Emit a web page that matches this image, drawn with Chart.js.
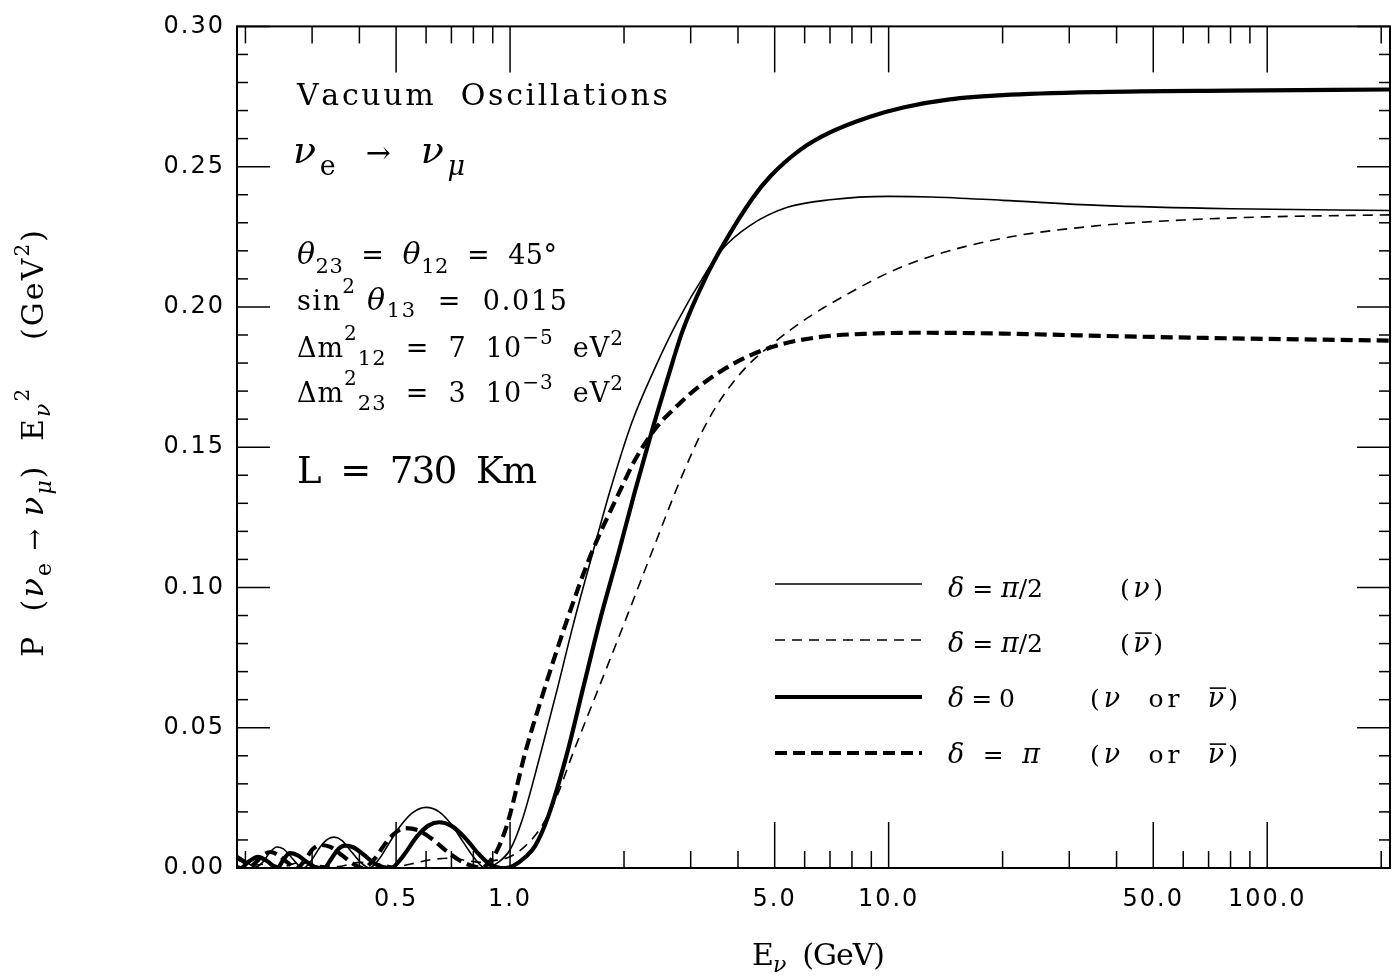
<!DOCTYPE html>
<html>
<head>
<meta charset="utf-8">
<script src="https://cdn.jsdelivr.net/npm/chart.js@4.4.1/dist/chart.umd.min.js"></script>
<style>
  html, body { margin: 0; padding: 0; background: #fff; }
  #wrap { width: 1400px; height: 977px; }
</style>
</head>
<body>
<div id="wrap"><canvas id="oscChart" width="1400" height="977"></canvas></div>
<script>
// values: E_nu (GeV) and P * E^2 (GeV^2), one pair of arrays per curve

// delta = pi/2, neutrinos (thin solid)
const halfPiNuE = [0.19, 0.20, 0.2125, 0.222, 0.232, 0.242, 0.252, 0.263, 0.275, 0.285, 0.298, 0.315, 0.33, 0.343, 0.36, 0.38, 0.40, 0.425, 0.45, 0.48, 0.51, 0.55, 0.60, 0.65, 0.70, 0.75, 0.80, 0.86, 0.93, 1.0, 1.076, 1.2, 1.331, 1.467, 1.647, 1.837, 2.10, 2.40, 2.76, 3.30, 3.63, 4.30, 5.40, 7.0, 10, 13, 20, 36, 80, 211];
const halfPiNuP = [0.0045, 0.0025, 0.0003, 0.002, 0.0055, 0.0075, 0.0068, 0.0042, 0.0012, 0.0, 0.0025, 0.0075, 0.0103, 0.011, 0.0098, 0.006, 0.0025, 0.0, 0.003, 0.009, 0.0145, 0.0195, 0.0216, 0.0200, 0.0155, 0.0095, 0.004, 0.0, 0.002, 0.0065, 0.017, 0.040, 0.0635, 0.0865, 0.1115, 0.1345, 0.159, 0.1775, 0.1945, 0.2125, 0.2205, 0.229, 0.2355, 0.2382, 0.2394, 0.2392, 0.238, 0.2362, 0.235, 0.2344];

// delta = pi/2, antineutrinos (thin dashed)
const halfPiAntiE = [0.19, 0.21, 0.23, 0.25, 0.28, 0.31, 0.35, 0.40, 0.45, 0.50, 0.55, 0.62, 0.70, 0.78, 0.85, 0.92, 1.0, 1.1, 1.2, 1.315, 1.465, 1.715, 2.013, 2.36, 2.81, 3.2, 3.6, 4.2, 4.95, 6.09, 7.77, 10.1, 12.9, 20, 36, 60, 100, 211];
const halfPiAntiP = [0.003, 0.001, 0.0015, 0.0005, 0.002, 0.001, 0.0005, 0.002, 0.0015, 0.0005, 0.0015, 0.003, 0.0035, 0.0025, 0.002, 0.0028, 0.004, 0.008, 0.014, 0.024, 0.0408, 0.0642, 0.088, 0.112, 0.138, 0.155, 0.167, 0.1785, 0.187, 0.196, 0.2045, 0.2125, 0.218, 0.2245, 0.229, 0.231, 0.2321, 0.2328];

// delta = 0 (thick solid)
const zeroE = [0.19, 0.194, 0.205, 0.216, 0.228, 0.243, 0.252, 0.262, 0.275, 0.29, 0.305, 0.322, 0.338, 0.352, 0.366, 0.385, 0.41, 0.44, 0.485, 0.52, 0.57, 0.61, 0.65, 0.70, 0.76, 0.82, 0.88, 0.93, 0.97, 1.02, 1.1, 1.164, 1.262, 1.412, 1.562, 1.729, 1.932, 2.139, 2.39, 2.6, 2.865, 3.315, 3.633, 4.385, 4.864, 5.84, 7.0, 8.93, 11, 14.5, 20, 36, 80, 211];
const zeroP = [0.0004, 0.0, 0.0025, 0.004, 0.0025, 0.0, 0.003, 0.0053, 0.0045, 0.0022, 0.0004, 0.0, 0.0035, 0.0068, 0.008, 0.0074, 0.0048, 0.0015, 0.0, 0.004, 0.0115, 0.0152, 0.0163, 0.015, 0.0108, 0.0055, 0.0015, 0.0002, 0.0, 0.0008, 0.004, 0.0078, 0.0185, 0.0405, 0.0645, 0.0885, 0.112, 0.1345, 0.1575, 0.174, 0.192, 0.2115, 0.2215, 0.239, 0.2465, 0.256, 0.2622, 0.2678, 0.2712, 0.274, 0.2755, 0.2766, 0.2771, 0.2775];

// delta = pi (thick dashed)
const piE = [0.19, 0.197, 0.205, 0.213, 0.222, 0.233, 0.245, 0.258, 0.273, 0.288, 0.30, 0.316, 0.335, 0.36, 0.385, 0.41, 0.44, 0.47, 0.50, 0.53, 0.57, 0.62, 0.68, 0.74, 0.80, 0.84, 0.88, 0.93, 0.99, 1.095, 1.237, 1.415, 1.627, 1.952, 2.139, 2.417, 2.8, 3.18, 4.05, 5.0, 6.6, 9, 12, 20, 36, 80, 211];
const piP = [0.0035, 0.0025, 0.0005, 0.002, 0.0045, 0.0057, 0.0045, 0.002, 0.0, 0.003, 0.0065, 0.0082, 0.0075, 0.0045, 0.0015, 0.0, 0.0035, 0.009, 0.0128, 0.0142, 0.0135, 0.0105, 0.006, 0.0025, 0.0006, 0.0, 0.002, 0.007, 0.017, 0.0408, 0.0645, 0.0885, 0.111, 0.1345, 0.1455, 0.1565, 0.1655, 0.172, 0.181, 0.186, 0.1893, 0.1905, 0.1908, 0.1905, 0.1897, 0.1888, 0.188];

// axes
const xTickLabels = [0.5, 1, 5, 10, 50, 100];
const yTickLabels = [0, 0.05, 0.10, 0.15, 0.20, 0.25, 0.30];
const xMin = 0.19, xMax = 211;

const SERIF = '"DejaVu Serif", "Liberation Serif", serif';
const SANS = '"DejaVu Sans", "Liberation Sans", sans-serif';

function pairs(es, ps) {
  return es.map((e, i) => ({ x: e, y: ps[i] }));
}

// draws a run of text parts {t, s, dy, it, bar}, spread out char by char to a target width
function drawRich(ctx, x, y, parts, target) {
  const glyphs = [];
  let natural = 0;
  for (const p of parts) {
    ctx.font = (p.it ? 'italic ' : '') + p.s + 'px ' + SERIF;
    for (const ch of p.t) {
      const w = ctx.measureText(ch).width;
      glyphs.push({ ch, w, p });
      natural += w;
    }
  }
  const gap = target && glyphs.length > 1 ? (target - natural) / (glyphs.length - 1) : 0;
  let cx = x;
  for (const g of glyphs) {
    const p = g.p, dy = p.dy || 0;
    ctx.font = (p.it ? 'italic ' : '') + p.s + 'px ' + SERIF;
    ctx.fillText(g.ch, cx, y + dy);
    if (p.bar && g.ch.trim()) {
      ctx.beginPath();
      ctx.lineWidth = 1.6;
      ctx.moveTo(cx + 2, y + dy - p.s * 0.7);
      ctx.lineTo(cx + g.w + 2, y + dy - p.s * 0.7);
      ctx.stroke();
    }
    cx += g.w + gap;
  }
}

const frameAndText = {
  id: 'frameAndText',
  beforeDraw(chart) {
    const ctx = chart.ctx;
    ctx.save();
    ctx.fillStyle = '#fff';
    ctx.fillRect(0, 0, chart.width, chart.height);
    ctx.restore();
    ctx.letterSpacing = '2px';
  },
  afterDraw(chart) {
    const { ctx, chartArea: a, scales: { x, y } } = chart;
    ctx.save();
    ctx.letterSpacing = '0px';
    ctx.strokeStyle = '#000';
    ctx.fillStyle = '#000';
    ctx.lineCap = 'butt';

    // frame
    ctx.lineWidth = 2;
    ctx.strokeRect(a.left, a.top, a.right - a.left, a.bottom - a.top);

    // inward ticks, mirrored on top and right
    ctx.lineWidth = 1.5;
    const tick = (x1, y1, x2, y2) => { ctx.beginPath(); ctx.moveTo(x1, y1); ctx.lineTo(x2, y2); ctx.stroke(); };
    for (let d = 0.1; d <= 100; d *= 10) {
      for (let k = 1; k <= 9; k++) {
        const v = k * d;
        if (v < xMin || v > xMax) continue;
        const px = x.getPixelForValue(v);
        const major = xTickLabels.some(m => Math.abs(m - v) < 1e-9);
        const len = major ? 46 : 17;
        tick(px, a.bottom, px, a.bottom - len);
        tick(px, a.top, px, a.top + len);
      }
    }
    for (let i = 0; i <= 30; i++) {
      const v = i / 100;
      const py = y.getPixelForValue(v);
      const len = i % 5 === 0 ? 33 : 11;
      tick(a.left, py, a.left + len, py);
      tick(a.right, py, a.right - len, py);
    }

    ctx.textAlign = 'left';
    ctx.textBaseline = 'alphabetic';

    // parameter block
    drawRich(ctx, 297, 105, [{ t: 'Vacuum  Oscillations', s: 30 }], 371);
    drawRich(ctx, 293, 163, [
      { t: 'ν', s: 38, it: true }, { t: 'e', s: 27, dy: 12 },
      { t: '  →  ', s: 30 },
      { t: 'ν', s: 38, it: true }, { t: 'μ', s: 27, dy: 12, it: true }
    ], 172);
    drawRich(ctx, 297, 264, [
      { t: 'θ', s: 30, it: true }, { t: '23', s: 21, dy: 9 }, { t: '  =  ', s: 27 },
      { t: 'θ', s: 30, it: true }, { t: '12', s: 21, dy: 9 }, { t: '  =  45°', s: 27 }
    ], 260);
    drawRich(ctx, 297, 310, [
      { t: 'sin', s: 27 }, { t: '2', s: 20, dy: -17 }, { t: ' ', s: 27 },
      { t: 'θ', s: 30, it: true }, { t: '13', s: 21, dy: 7 }, { t: '  =  0.015', s: 27 }
    ], 270);
    drawRich(ctx, 297, 357, [
      { t: 'Δm', s: 27 }, { t: '2', s: 20, dy: -17 }, { t: '12', s: 21, dy: 8 },
      { t: '  =  7  10', s: 27 }, { t: '−5', s: 20, dy: -13 }, { t: '  eV', s: 27 }, { t: '2', s: 20, dy: -12 }
    ], 326);
    drawRich(ctx, 297, 402, [
      { t: 'Δm', s: 27 }, { t: '2', s: 20, dy: -17 }, { t: '23', s: 21, dy: 8 },
      { t: '  =  3  10', s: 27 }, { t: '−3', s: 20, dy: -13 }, { t: '  eV', s: 27 }, { t: '2', s: 20, dy: -12 }
    ], 326);
    drawRich(ctx, 297, 483, [{ t: 'L  =  730  Km', s: 37 }], 240);

    // legend, line styles taken from the datasets
    const d = { t: 'δ', s: 27, it: true };
    const nu = { t: 'ν', s: 27, it: true };
    const nuBar = { t: 'ν', s: 27, it: true, bar: true };
    const either = [{ t: '(', s: 25 }, nu, { t: '  or  ', s: 25 }, nuBar, { t: ')', s: 25 }];
    const rows = [
      { ds: 0, ly: 584, ty: 597, left: [d, { t: ' = ', s: 25 }, { t: 'π', s: 27, it: true }, { t: '/2', s: 25 }], lw: 95,
        rx: 1120, right: [{ t: '(', s: 25 }, nu, { t: ')', s: 25 }], rw: 43 },
      { ds: 1, ly: 640, ty: 652, left: [d, { t: ' = ', s: 25 }, { t: 'π', s: 27, it: true }, { t: '/2', s: 25 }], lw: 95,
        rx: 1120, right: [{ t: '(', s: 25 }, nuBar, { t: ')', s: 25 }], rw: 43 },
      { ds: 2, ly: 697, ty: 707, left: [d, { t: ' = 0', s: 25 }], lw: 67, rx: 1090, right: either, rw: 148 },
      { ds: 3, ly: 753, ty: 763, left: [d, { t: ' = ', s: 25 }, { t: 'π', s: 27, it: true }], lw: 92, rx: 1090, right: either, rw: 148 }
    ];
    for (const r of rows) {
      const ds = chart.data.datasets[r.ds];
      ctx.save();
      ctx.lineWidth = ds.borderWidth;
      ctx.setLineDash(ds.borderDash || []);
      ctx.beginPath();
      ctx.moveTo(775, r.ly);
      ctx.lineTo(922, r.ly);
      ctx.stroke();
      ctx.restore();
      drawRich(ctx, 948, r.ty, r.left, r.lw);
      drawRich(ctx, r.rx, r.ty, r.right, r.rw);
    }

    // axis titles
    drawRich(ctx, 752, 965, [
      { t: 'E', s: 30 }, { t: 'ν', s: 22, dy: 7, it: true }, { t: '  (GeV)', s: 30 }
    ], 133);
    ctx.save();
    ctx.translate(43, 657);
    ctx.rotate(-Math.PI / 2);
    drawRich(ctx, 0, 0, [
      { t: 'P  (', s: 30 }, { t: 'ν', s: 32, it: true }, { t: 'e', s: 22, dy: 8 },
      { t: ' → ', s: 26 }, { t: 'ν', s: 32, it: true }, { t: 'μ', s: 22, dy: 8, it: true },
      { t: ')  E', s: 30 }, { t: 'ν', s: 22, dy: 7, it: true }, { t: '2', s: 20, dy: -14 },
      { t: '    (GeV', s: 30 }, { t: '2', s: 20, dy: -14 }, { t: ')', s: 30 }
    ], 427);
    ctx.restore();

    ctx.restore();
  }
};

const lineBase = {
  borderColor: '#000',
  pointRadius: 0,
  pointHoverRadius: 0,
  fill: false,
  cubicInterpolationMode: 'monotone'
};

new Chart(document.getElementById('oscChart'), {
  type: 'line',
  data: {
    datasets: [
      { ...lineBase, label: 'δ = π/2 (ν)', data: pairs(halfPiNuE, halfPiNuP), borderWidth: 1.6, borderDash: [] },
      { ...lineBase, label: 'δ = π/2 (anti-ν)', data: pairs(halfPiAntiE, halfPiAntiP), borderWidth: 1.6, borderDash: [10, 7] },
      { ...lineBase, label: 'δ = 0', data: pairs(zeroE, zeroP), borderWidth: 4.2, borderDash: [] },
      { ...lineBase, label: 'δ = π', data: pairs(piE, piP), borderWidth: 4.2, borderDash: [12, 6] }
    ]
  },
  options: {
    responsive: false,
    animation: false,
    events: [],
    layout: { padding: { top: 22, right: 10, left: 0, bottom: 0 } },
    plugins: { legend: { display: false }, tooltip: { enabled: false } },
    scales: {
      x: {
        type: 'logarithmic',
        min: xMin,
        max: xMax,
        afterBuildTicks: (scale) => { scale.ticks = xTickLabels.map(v => ({ value: v })); },
        afterFit: (scale) => { scale.height = 109; },
        grid: { display: false, drawTicks: false },
        border: { display: false },
        ticks: {
          autoSkip: false,
          maxRotation: 0,
          padding: 17,
          color: '#000',
          font: { family: SANS, size: 24 },
          callback: (v) => Number(v).toFixed(1)
        }
      },
      y: {
        min: 0,
        max: 0.3,
        afterBuildTicks: (scale) => { scale.ticks = yTickLabels.map(v => ({ value: v })); },
        afterFit: (scale) => { scale.width = 237; },
        grid: { display: false, drawTicks: false },
        border: { display: false },
        ticks: {
          autoSkip: false,
          padding: 12,
          color: '#000',
          font: { family: SANS, size: 24 },
          callback: (v) => Number(v).toFixed(2)
        }
      }
    }
  },
  plugins: [frameAndText]
});
</script>
</body>
</html>
